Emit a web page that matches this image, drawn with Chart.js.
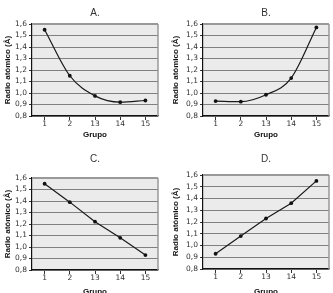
<!DOCTYPE html>
<html><head><meta charset="utf-8">
<script src="https://cdn.jsdelivr.net/npm/chart.js@4/dist/chart.umd.min.js"></script>
<style>
html,body{margin:0;padding:0;width:333px;height:293px;overflow:hidden;background:#fff;}
canvas{position:absolute;}
</style></head><body>
<canvas id="cA" width="166" height="146" style="left:0;top:0;width:166px;height:146px"></canvas>
<canvas id="cB" width="167" height="146" style="left:166px;top:0;width:167px;height:146px"></canvas>
<canvas id="cC" width="166" height="152" style="left:0;top:146px;width:166px;height:152px"></canvas>
<canvas id="cD" width="167" height="152" style="left:166px;top:146px;width:167px;height:152px"></canvas>
<script>
// ---- data ----
const groups = ['1', '2', '13', '14', '15'];
const yTickValues = [0.8, 0.9, 1.0, 1.1, 1.2, 1.3, 1.4, 1.5, 1.6];
const radiusA = [1.55, 1.15, 0.975, 0.92, 0.935];
const radiusB = [0.93, 0.925, 0.985, 1.13, 1.57];
const radiusC = [1.55, 1.39, 1.22, 1.08, 0.93];
const radiusD = [0.93, 1.08, 1.23, 1.36, 1.55];
const panelTitles = ['A.', 'B.', 'C.', 'D.'];
const yAxisTitle = 'Radio atómico (Å)';
const xAxisTitle = 'Grupo';

// ---- layout (not data) ----
const panels = [
  {id:'cA', title:panelTitles[0], values:radiusA, smooth:true,  w:166, h:146, l:32, r:158, t:24, b:116, titleY:13, xTit:135, yTit:8},
  {id:'cB', title:panelTitles[1], values:radiusB, smooth:true,  w:167, h:146, l:37, r:163, t:24, b:116, titleY:13, xTit:135, yTit:10},
  {id:'cC', title:panelTitles[2], values:radiusC, smooth:false, w:166, h:152, l:32, r:158, t:32, b:124, titleY:13, xTit:146, yTit:8},
  {id:'cD', title:panelTitles[3], values:radiusD, smooth:false, w:167, h:152, l:37, r:163, t:29, b:123, titleY:13, xTit:146, yTit:10}
];

Chart.defaults.font.family = "'DejaVu Sans', Verdana, sans-serif";

const framePlugin = {
  id: 'frame',
  beforeDraw(chart) {
    const {ctx, chartArea: a} = chart;
    ctx.save();
    ctx.fillStyle = '#ebebeb';
    ctx.fillRect(a.left, a.top, a.right - a.left, a.bottom - a.top);
    ctx.restore();
  },
  beforeDatasetsDraw(chart) {
    const {ctx, chartArea: a} = chart;
    ctx.save();
    ctx.strokeStyle = '#999';
    ctx.lineWidth = 2;
    ctx.beginPath();
    ctx.moveTo(a.left, a.top);
    ctx.lineTo(a.right, a.top);
    ctx.stroke();
    ctx.lineWidth = 1.5;
    ctx.beginPath();
    ctx.moveTo(a.right, a.top);
    ctx.lineTo(a.right, a.bottom);
    ctx.stroke();
    ctx.restore();
  }
};

const titleFont = 10, titleLH = 1.2;
const axisFont = 8;
const tickFont = 7.5;

panels.forEach(p => {
  const tlh = titleFont * titleLH;
  const tPadTop = p.titleY - tlh / 2;
  const tPadBot = p.t - tlh - tPadTop;
  const alh = axisFont * 1.2;
  new Chart(document.getElementById(p.id), {
    type: 'line',
    data: {
      labels: groups,
      datasets: [{
        data: p.values,
        borderColor: '#1a1a1a',
        borderWidth: 1.2,
        pointRadius: 1.9,
        pointBackgroundColor: '#111',
        pointBorderWidth: 0,
        cubicInterpolationMode: p.smooth ? 'monotone' : 'default',
        tension: 0
      }]
    },
    options: {
      responsive: false,
      animation: false,
      devicePixelRatio: 1,
      layout: {padding: {left: 0, top: 0, bottom: 0, right: p.w - p.r}},
      plugins: {
        legend: {display: false},
        tooltip: {enabled: false},
        title: {
          display: true, text: p.title, fullSize: false,
          color: '#333',
          font: {size: titleFont, weight: 'normal', family: "'Liberation Sans', Arial, sans-serif", lineHeight: titleLH},
          padding: {top: tPadTop, bottom: tPadBot}
        }
      },
      scales: {
        x: {
          offset: true,
          grid: {drawOnChartArea: false, drawTicks: true, tickLength: 4, tickColor: '#333'},
          border: {color: '#111', width: 1.2},
          ticks: {color: '#333', font: {size: tickFont}, padding: 0, maxRotation: 0, autoSkip: false},
          title: {display: true, text: xAxisTitle, color: '#111',
            font: {size: axisFont, weight: 'bold', family: "'Liberation Sans', Arial, sans-serif", lineHeight: 1.2},
            padding: {top: 0, bottom: p.h - p.xTit - alh / 2}},
          afterFit(s) { s.height = p.h - p.b; }
        },
        y: {
          min: 0.8, max: 1.6,
          afterBuildTicks(s) { s.ticks = yTickValues.map(v => ({value: v})); },
          grid: {color: '#808080', lineWidth: 1, tickLength: 3, tickColor: '#333'},
          border: {color: '#111', width: 1.2},
          ticks: {color: '#333', font: {size: tickFont}, padding: 2, autoSkip: false,
            callback: v => Number(v).toFixed(1).replace('.', ',')},
          title: {display: true, text: yAxisTitle, color: '#111',
            font: {size: axisFont, weight: 'bold', family: "'Liberation Sans', Arial, sans-serif", lineHeight: 1.2},
            padding: {top: p.yTit - alh / 2, bottom: 0}},
          afterFit(s) { s.width = p.l; }
        }
      }
    },
    plugins: [framePlugin]
  });
});
</script>
</body></html>
